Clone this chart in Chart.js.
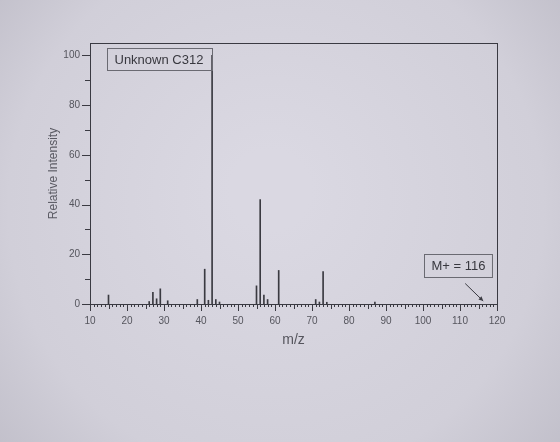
<!DOCTYPE html>
<html>
<head>
<meta charset="utf-8">
<script src="https://cdn.jsdelivr.net/npm/chart.js@4"></script>
<style>
  html, body { margin: 0; padding: 0; background: #d3d1db; }
  canvas { display: block; }
</style>
</head>
<body>
<canvas id="msChart" width="560" height="442"></canvas>
<script>
// m/z values and relative intensities
const mzValues = [15, 26, 27, 28, 29, 31, 39, 41, 42, 43, 44, 45, 55, 56, 57, 58, 61, 71, 72, 73, 74, 87];
const intensities = [3.6, 1, 4.7, 2.1, 6.1, 1.3, 1.8, 14, 1.5, 100, 1.8, 0.8, 7.3, 42, 3.6, 1.8, 13.5, 1.8, 0.8, 13, 0.7, 0.8];
const xTickLabels = [10, 20, 30, 40, 50, 60, 70, 80, 90, 100, 110, 120];
const yTickLabels = [0, 20, 40, 60, 80, 100];
const sampleName = 'Unknown C312';
const parentIon = 'M+ = 116';
const parentMz = 116;
const basePeakMz = 43;

const ink = '#3a3a42';
const textGray = '#55555d';

const paperPlugin = {
  id: 'paper',
  beforeDraw(chart) {
    const { ctx, width, height } = chart;
    ctx.save();
    const g = ctx.createRadialGradient(270, 190, 40, 280, 220, 420);
    g.addColorStop(0, '#dad8e2');
    g.addColorStop(0.6, '#d1cfd9');
    g.addColorStop(1, '#b9b7c2');
    ctx.fillStyle = g;
    ctx.fillRect(0, 0, width, height);
    ctx.restore();
  }
};

const spectrumDecor = {
  id: 'spectrumDecor',
  afterDraw(chart) {
    const { ctx, chartArea: a, scales: { x, y } } = chart;
    ctx.save();
    ctx.strokeStyle = ink;
    ctx.lineWidth = 1;

    // frame
    ctx.strokeRect(a.left + 0.5, a.top + 0.5, a.right - a.left, a.bottom - a.top);

    // ruler ticks along m/z axis
    ctx.beginPath();
    for (let v = x.min; v <= x.max; v++) {
      const px = Math.round(x.getPixelForValue(v)) + 0.5;
      const len = v % 10 === 0 ? 7 : (v % 5 === 0 ? 5 : 3);
      ctx.moveTo(px, a.bottom);
      ctx.lineTo(px, a.bottom + len);
    }
    // intensity ticks
    for (let v = 0; v <= 100; v += 10) {
      const py = Math.round(y.getPixelForValue(v)) + 0.5;
      const len = v % 20 === 0 ? 8 : 5;
      ctx.moveTo(a.left - len, py);
      ctx.lineTo(a.left, py);
    }
    ctx.stroke();

    // sample label box, butting against the base peak
    ctx.font = '13px "Liberation Sans", Arial, sans-serif';
    ctx.fillStyle = '#38383f';
    ctx.textBaseline = 'middle';
    const boxRight = Math.round(x.getPixelForValue(basePeakMz)) + 0.5;
    const boxLeft = a.left + 17.5;
    const boxTop = a.top + 5.5;
    ctx.strokeStyle = '#6a6a72';
    ctx.strokeRect(boxLeft, boxTop, boxRight - boxLeft, 22);
    ctx.fillText(sampleName, boxLeft + 7, boxTop + 11.5);

    // parent ion annotation with arrow
    const mx = x.getPixelForValue(parentMz);
    const mw = ctx.measureText(parentIon).width + 14;
    const mLeft = Math.round(a.right - 5 - mw) + 0.5;
    const mTop = Math.round(a.bottom - 50) + 0.5;
    ctx.strokeRect(mLeft, mTop, mw, 23);
    ctx.fillText(parentIon, mLeft + 7, mTop + 12);

    const ax0 = mx - 17, ay0 = mTop + 29, ax1 = mx + 1, ay1 = a.bottom - 3;
    ctx.strokeStyle = ink;
    ctx.beginPath();
    ctx.moveTo(ax0, ay0);
    ctx.lineTo(ax1, ay1);
    ctx.stroke();
    const ang = Math.atan2(ay1 - ay0, ax1 - ax0);
    ctx.beginPath();
    ctx.moveTo(ax1, ay1);
    ctx.lineTo(ax1 - 5 * Math.cos(ang - 0.45), ay1 - 5 * Math.sin(ang - 0.45));
    ctx.lineTo(ax1 - 5 * Math.cos(ang + 0.45), ay1 - 5 * Math.sin(ang + 0.45));
    ctx.closePath();
    ctx.fillStyle = ink;
    ctx.fill();
    ctx.restore();
  }
};

new Chart(document.getElementById('msChart'), {
  type: 'bar',
  data: {
    datasets: [{
      data: mzValues.map((m, i) => ({ x: m, y: intensities[i] })),
      backgroundColor: '#3a3a41',
      borderWidth: 0,
      barThickness: 1,
      grouped: false
    }]
  },
  options: {
    responsive: false,
    animation: false,
    layout: { padding: { left: 30, right: 63, top: 43, bottom: 92 } },
    plugins: {
      legend: { display: false },
      tooltip: { enabled: false }
    },
    scales: {
      x: {
        type: 'linear',
        min: 10,
        max: 120,
        offset: false,
        grid: { display: false, drawTicks: false, offset: false },
        border: { display: false },
        afterFit(scale) { scale.height = 46; },
        afterBuildTicks(scale) { scale.ticks = xTickLabels.map(v => ({ value: v })); },
        ticks: {
          autoSkip: false,
          maxRotation: 0,
          padding: 11,
          color: textGray,
          font: { family: '"Liberation Sans", Arial, sans-serif', size: 10 }
        },
        title: {
          display: true,
          text: 'm/z',
          color: textGray,
          font: { family: '"Liberation Sans", Arial, sans-serif', size: 14 },
          padding: { top: 0, bottom: 1 }
        }
      },
      y: {
        min: 0,
        max: 105,
        grid: { display: false, drawTicks: false },
        border: { display: false },
        afterFit(scale) { scale.width = 60; },
        afterBuildTicks(scale) { scale.ticks = yTickLabels.map(v => ({ value: v })); },
        ticks: {
          padding: 10,
          color: textGray,
          font: { family: '"Liberation Sans", Arial, sans-serif', size: 10 }
        },
        title: {
          display: true,
          text: 'Relative Intensity',
          color: '#5a5a63',
          font: { family: '"Liberation Sans", Arial, sans-serif', size: 12 },
          padding: { top: 16, bottom: 0 }
        }
      }
    }
  },
  plugins: [paperPlugin, spectrumDecor]
});
</script>
</body>
</html>
